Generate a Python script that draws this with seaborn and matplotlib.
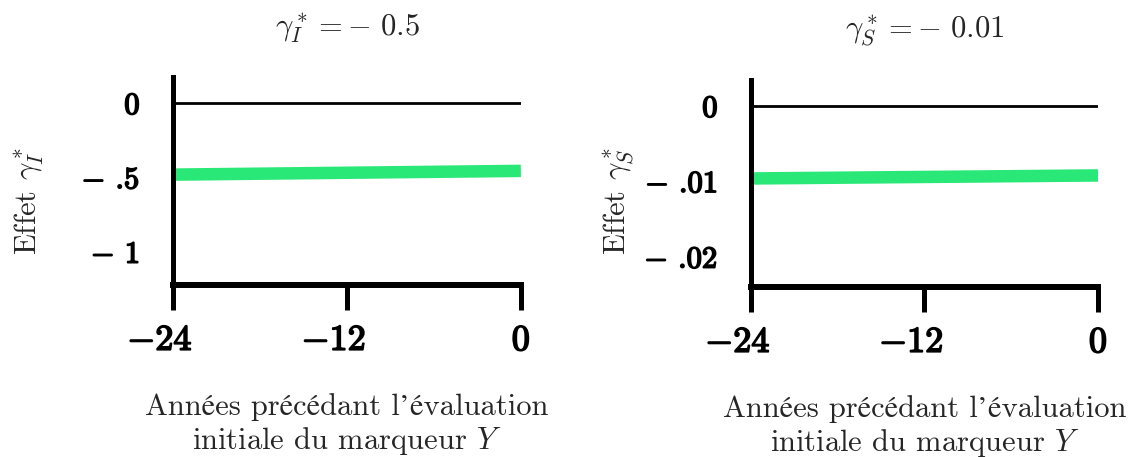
import numpy as np
import pandas as pd
import matplotlib
matplotlib.use("Agg")
import matplotlib.pyplot as plt
import matplotlib.patheffects as pe
import matplotlib.transforms as mtransforms
import seaborn as sns

# values
annees = [-24, 0]
effet_I = [-0.48, -0.455]
effet_S = [-0.0096, -0.0092]
zero = [0, 0]

titres = [r"$\gamma_I^* = -\ 0.5$", r"$\gamma_S^* = -\ 0.01$"]
ylabels = [r"Effet $\gamma_I^*$", r"Effet $\gamma_S^*$"]
yticks_I = [0, -0.5, -1]
yticklabels_I = ["0", r"$-$ .5", r"$-$ 1"]
yticks_S = [0, -0.01, -0.02]
yticklabels_S = ["0", r"$-$ .01", r"$-$ .02"]
xticks = [-24, -12, 0]
xticklabels = [r"$-$24", r"$-$12", "0"]
xlabel = "Années précédant l’évaluation\ninitiale du marqueur $Y$"

sns.set_style("white")
plt.rcParams['font.family'] = ['cmr10', 'STIXGeneral', 'DejaVu Serif']
plt.rcParams['mathtext.fontset'] = 'cm'
plt.rcParams['axes.unicode_minus'] = False

gras = [pe.withStroke(linewidth=1.2, foreground='black')]

fig = plt.figure(figsize=(11.33, 4.57), dpi=100)
ax1 = fig.add_axes([0.1527, 0.3764, 0.307, 0.455])
ax2 = fig.add_axes([0.6628, 0.372, 0.3063, 0.453])

# digits sit centred on the tick, the minus hangs to the left
decalage = mtransforms.ScaledTranslation(-9.5 / 72, 0, fig.dpi_scale_trans)

panels = [
    (ax1, effet_I, yticks_I, yticklabels_I, (-1.221, 0.175), (-0.362, 0.404)),
    (ax2, effet_S, yticks_S, yticklabels_S, (-0.02397, 0.00344), (-0.329, 0.415)),
]

for i, (ax, effet, yt, ytl, ylim, ylab_pos) in enumerate(panels):
    df = pd.DataFrame({'annee': annees, 'effet': effet, 'zero': zero})
    sns.lineplot(data=df, x='annee', y='zero', color='black', lw=2, ax=ax)
    sns.lineplot(data=df, x='annee', y='effet', color='#2ae878', lw=9,
                 solid_capstyle='butt', ax=ax)
    ax.set_xlim(-24, 0)
    ax.set_ylim(*ylim)
    ax.set_xticks(xticks)
    ax.set_xticklabels(xticklabels, fontsize=26)
    ax.set_yticks(yt)
    ax.set_yticklabels(ytl, fontsize=22)
    ax.tick_params(axis='x', length=18, width=3.6, pad=11, bottom=True,
                   color='black', labelcolor='black')
    ax.tick_params(axis='y', length=0, pad=24, labelcolor='black')
    for t in ax.get_xticklabels() + ax.get_yticklabels():
        t.set_path_effects(gras)
    for t in ax.get_xticklabels():
        if t.get_text().startswith('$-$'):
            t.set_transform(t.get_transform() + decalage)
    for s in ['top', 'right']:
        ax.spines[s].set_visible(False)
    ax.spines['left'].set_linewidth(3.6)
    ax.spines['bottom'].set_linewidth(4.3)
    ax.spines['left'].set_color('black')
    ax.spines['bottom'].set_color('black')
    ax.set_title(titres[i], fontsize=22, pad=30)
    ax.set_xlabel(xlabel, fontsize=22, labelpad=26, linespacing=1.15)
    ax.set_ylabel(ylabels[i], fontsize=22)
    ax.yaxis.set_label_coords(*ylab_pos)

fig.savefig("out.png", dpi=100)
